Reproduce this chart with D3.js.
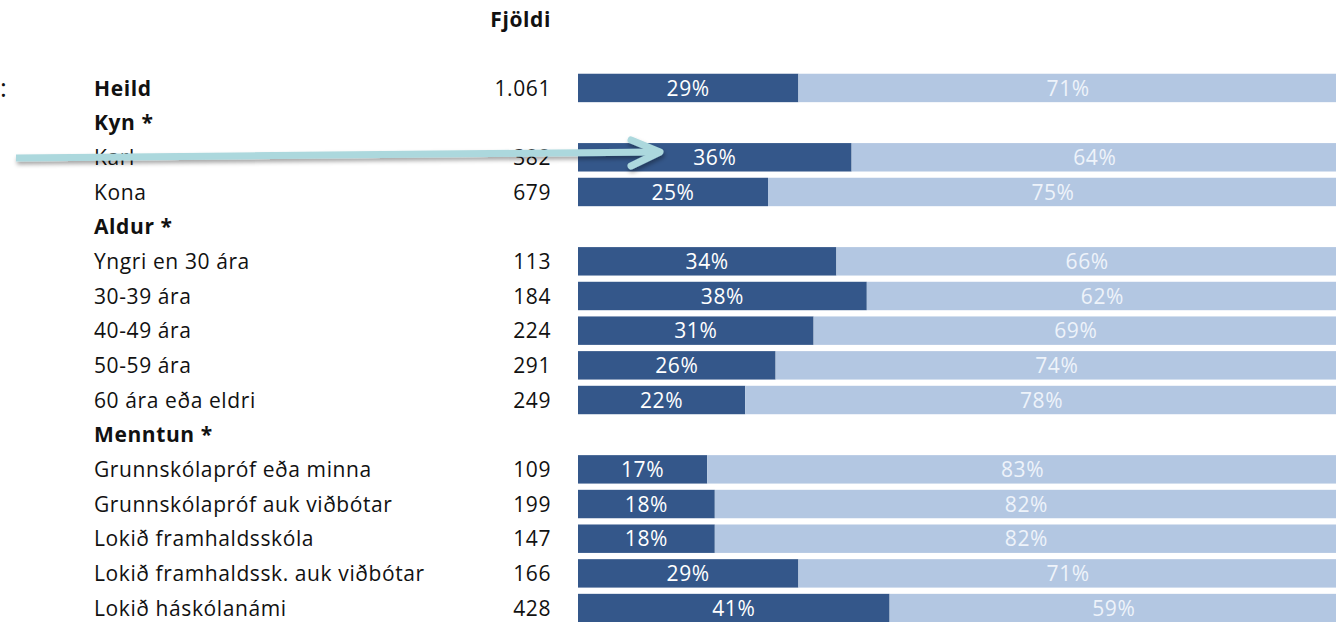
<!DOCTYPE html>
<html><head><meta charset="utf-8">
<script src="https://cdn.jsdelivr.net/npm/d3@7"></script>
<style>html,body{margin:0;padding:0;background:#fff;overflow:hidden}</style>
</head><body>
<svg id="chart" width="1336" height="622"></svg>
<script>
const rows = ["Heild","Kyn *","Karl","Kona","Aldur *","Yngri en 30 ára","30-39 ára","40-49 ára","50-59 ára","60 ára eða eldri","Menntun *","Grunnskólapróf eða minna","Grunnskólapróf auk viðbótar","Lokið framhaldsskóla","Lokið framhaldssk. auk viðbótar","Lokið háskólanámi"];
const boldRows = ["Heild","Kyn *","Aldur *","Menntun *"];
const counts = ["1.061",null,"382","679",null,"113","184","224","291","249",null,"109","199","147","166","428"];
const yesPct = [29,null,36,25,null,34,38,31,26,22,null,17,18,18,29,41];
const noPct  = [71,null,64,75,null,66,62,69,74,78,null,83,82,82,71,59];

const svg = d3.select("#chart");
const font = "'Open Sans', Lato, sans-serif";
const fs = 21;
const ls = 0.6;
const y = d3.scaleBand().domain(d3.range(rows.length)).range([72, 624]).paddingInner(0.18).paddingOuter(0.05);
const x = d3.scaleLinear().domain([0,100]).range([578, 1338]);
const dark = "#34578a", light = "#b3c7e2";

svg.append("text").attr("x",551).attr("y",27).attr("text-anchor","end").attr("letter-spacing",ls)
  .attr("font-family",font).attr("font-weight","bold").attr("font-size",fs).attr("fill","#111").text("Fjöldi");
svg.append("text").attr("x",0).attr("y",97).attr("font-family",font).attr("font-size",26).attr("fill","#111").text(":");

const g = svg.append("g").attr("letter-spacing",ls);
rows.forEach((r,i)=>{
  const cy = y(i)+y.bandwidth()/2;
  g.append("text").attr("x",94).attr("y",cy).attr("dy","0.36em")
   .attr("font-family",font).attr("font-size",fs).attr("font-weight",boldRows.includes(r)?"bold":"normal")
   .attr("fill","#111").text(r);
  if(counts[i]) g.append("text").attr("x",551).attr("y",cy).attr("dy","0.36em").attr("text-anchor","end")
   .attr("font-family",font).attr("font-size",fs).attr("fill","#111").text(counts[i]);
  if(yesPct[i]!=null){
    g.append("rect").attr("x",x(0)).attr("y",y(i)).attr("width",x(yesPct[i])-x(0)).attr("height",y.bandwidth()).attr("fill",dark);
    g.append("rect").attr("x",x(yesPct[i])).attr("y",y(i)).attr("width",x(100)-x(yesPct[i])).attr("height",y.bandwidth()).attr("fill",light);
    g.append("text").attr("x",(x(0)+x(yesPct[i]))/2).attr("y",cy).attr("dy","0.36em").attr("text-anchor","middle")
     .attr("font-family",font).attr("font-size",fs).attr("fill","#ffffff").text(yesPct[i]+"%");
    g.append("text").attr("x",(x(yesPct[i])+x(100))/2).attr("y",cy).attr("dy","0.36em").attr("text-anchor","middle")
     .attr("font-family",font).attr("font-size",fs).attr("fill","#eef3fa").text(noPct[i]+"%");
  }
});

// annotation arrow
const defs = svg.append("defs");
const f = defs.append("filter").attr("id","sh").attr("x","-5%").attr("y","-50%").attr("width","110%").attr("height","200%");
f.append("feDropShadow").attr("dx",1).attr("dy",3).attr("stdDeviation",2).attr("flood-color","#000").attr("flood-opacity",0.35);
const ag = svg.append("g").attr("filter","url(#sh)");
ag.append("line").attr("x1",16).attr("y1",158).attr("x2",660).attr("y2",152).attr("stroke","#acd8dd").attr("stroke-width",7);
ag.append("path").attr("d","M631,140 L660,152 L631,166").attr("fill","none").attr("stroke","#acd8dd").attr("stroke-width",7).attr("stroke-linecap","round").attr("stroke-linejoin","round");
</script>
</body></html>
